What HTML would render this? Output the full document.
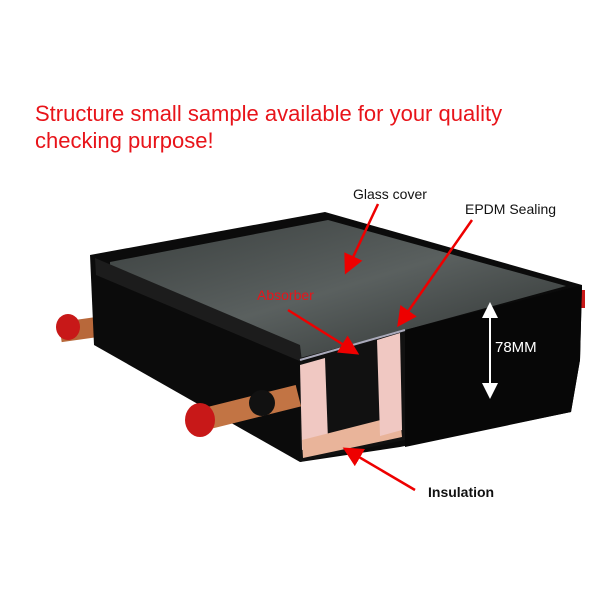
<!DOCTYPE html>
<html><head><style>
body{margin:0;background:#fff;width:600px;height:600px;overflow:hidden}
svg{display:block}
</style></head><body>
<svg width="600" height="600" viewBox="0 0 600 600" font-family="Liberation Sans, sans-serif">
<defs>
<marker id="ar" markerWidth="8" markerHeight="8" refX="6" refY="4" orient="auto"><path d="M0,0 L8,4 L0,8 Z" fill="#e00"/></marker>
<marker id="wa" markerWidth="8" markerHeight="8" refX="6" refY="4" orient="auto-start-reverse"><path d="M0,0 L8,4 L0,8 Z" fill="#fff"/></marker>
<linearGradient id="gl" x1="0" y1="0" x2="1" y2="1"><stop offset="0" stop-color="#3a3f3e"/><stop offset="0.5" stop-color="#5a605f"/><stop offset="1" stop-color="#2c302f"/></linearGradient>
</defs>
<text x="35" y="121" font-size="22" fill="#e8141a">Structure small sample available for your quality</text>
<text x="35" y="148" font-size="22" fill="#e8141a">checking purpose!</text>
<!-- pipes back -->
<rect x="60" y="318" width="60" height="20" fill="#b8683a" transform="rotate(-8 90 328)"/>
<ellipse cx="68" cy="327" rx="12" ry="13" fill="#c81818"/>
<rect x="575" y="290" width="10" height="18" fill="#c81818"/>
<!-- body -->
<polygon points="90,255 325,212 582,285 580,360 571,412 400,447 300,462 94,345" fill="#0b0b0b"/>
<polygon points="110,262 328,220 566,286 405,330 300,358 110,270" fill="url(#gl)"/>
<polygon points="95,258 300,345 302,362 96,275" fill="#1c1c1c"/>
<!-- cut section -->
<polygon points="300,362 405,330 405,440 300,462" fill="#111"/>
<polygon points="300,365 325,358 328,440 302,450" fill="#f0c8c2"/>
<polygon points="302,440 400,415 402,437 303,458" fill="#e9b49a"/>
<polygon points="377,340 400,333 402,430 380,436" fill="#f0c8c2"/>
<polygon points="405,330 582,285 580,360 571,412 405,447" fill="#070707"/>
<line x1="300" y1="360" x2="405" y2="330" stroke="#aab" stroke-width="2"/>
<!-- front pipe -->
<rect x="190" y="398" width="110" height="22" fill="#c27444" transform="rotate(-14 245 409)"/>
<circle cx="262" cy="403" r="13" fill="#111"/>
<ellipse cx="200" cy="420" rx="15" ry="17" fill="#c81818"/>
<!-- labels -->
<text x="353" y="199" font-size="14" fill="#111">Glass cover</text>
<text x="465" y="214" font-size="14" fill="#111">EPDM Sealing</text>
<text x="257" y="300" font-size="14" fill="#e8141a">Absorber</text>
<text x="495" y="352" font-size="15" fill="#fff">78MM</text>
<text x="428" y="497" font-size="14" font-weight="bold" fill="#111">Insulation</text>
<line x1="378" y1="204" x2="347" y2="270" stroke="#e00" stroke-width="2.5" marker-end="url(#ar)"/>
<line x1="472" y1="220" x2="400" y2="323" stroke="#e00" stroke-width="2.5" marker-end="url(#ar)"/>
<line x1="288" y1="310" x2="355" y2="352" stroke="#e00" stroke-width="2.5" marker-end="url(#ar)"/>
<line x1="415" y1="490" x2="347" y2="450" stroke="#e00" stroke-width="2.5" marker-end="url(#ar)"/>
<line x1="490" y1="306" x2="490" y2="395" stroke="#fff" stroke-width="2" marker-start="url(#wa)" marker-end="url(#wa)"/>
</svg>
</body></html>
